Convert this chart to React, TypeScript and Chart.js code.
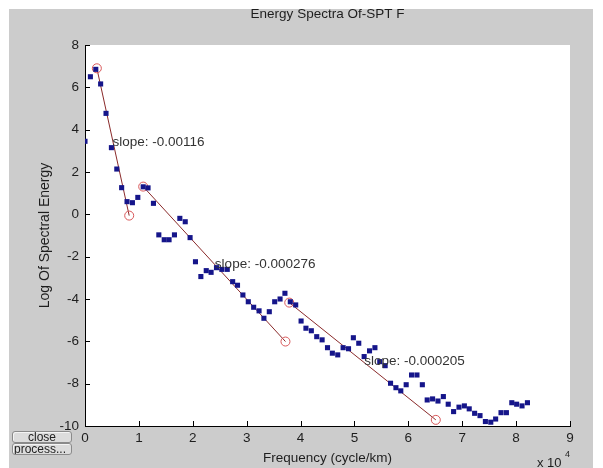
import React, { useEffect, useRef } from "react";
import { Chart, registerables } from "chart.js";

Chart.register(...registerables);

// Frequency (x 10^4 cycle/km)
const freq = [
  0.00, 0.10, 0.20, 0.29, 0.39, 0.49, 0.59, 0.68, 0.78, 0.88,
  0.98, 1.08, 1.17, 1.27, 1.37, 1.47, 1.56, 1.66, 1.76, 1.86,
  1.95, 2.05, 2.15, 2.25, 2.34, 2.44, 2.54, 2.64, 2.74, 2.83,
  2.93, 3.03, 3.13, 3.23, 3.32, 3.42, 3.52, 3.62, 3.71, 3.81,
  3.91, 4.01, 4.10, 4.20, 4.30, 4.40, 4.50, 4.59, 4.69, 4.79,
  4.89, 4.98, 5.08, 5.18, 5.28, 5.38, 5.47, 5.57, 5.67, 5.77,
  5.86, 5.96, 6.06, 6.16, 6.26, 6.35, 6.45, 6.55, 6.65, 6.74,
  6.84, 6.94, 7.04, 7.13, 7.23, 7.33, 7.43, 7.53, 7.62, 7.72,
  7.82, 7.92, 8.01, 8.11, 8.21,
];

// Log of spectral energy
const energy = [
  3.45, 6.5, 6.85, 6.16, 4.77, 3.15, 2.14, 1.26, 0.6, 0.55,
  0.8, 1.3, 1.25, 0.52, -0.97, -1.2, -1.2, -0.97, -0.19, -0.35,
  -1.1, -2.24, -2.94, -2.66, -2.74, -2.52, -2.6, -2.6, -3.18, -3.35,
  -3.81, -4.13, -4.39, -4.56, -4.91, -4.6, -4.13, -4.0, -3.73, -4.13,
  -4.28, -5.04, -5.38, -5.5, -5.78, -5.93, -6.3, -6.56, -6.64, -6.3,
  -6.35, -5.83, -6.09, -6.72, -6.45, -6.3, -6.96, -7.15, -7.98, -8.19,
  -8.34, -8.05, -7.59, -7.59, -8.05, -8.77, -8.72, -8.82, -8.61, -8.97,
  -9.32, -9.11, -9.05, -9.19, -9.4, -9.51, -9.79, -9.82, -9.67, -9.37,
  -9.37, -8.9, -8.97, -9.05, -8.9,
];

// Fitted segments (end points)
const fit1X = [0.22, 0.82];
const fit1Y = [6.9, -0.06];
const fit2X = [1.08, 3.72];
const fit2Y = [1.31, -6.01];
const fit3X = [3.79, 6.51];
const fit3Y = [-4.17, -9.71];

const slopeLabels = ["slope: -0.00116", "slope: -0.000276", "slope: -0.000205"];
const slopeLabelX = [0.51, 2.41, 5.18];
const slopeLabelY = [3.39, -2.36, -6.96];

const xTicks = [0, 1, 2, 3, 4, 5, 6, 7, 8, 9];
const yTicks = [-10, -8, -6, -4, -2, 0, 2, 4, 6, 8];

const titleText = "Energy Spectra Of-SPT F";
const xLabel = "Frequency (cycle/km)";
const yLabel = "Log Of Spectral Energy";

const FONT = "'Liberation Sans', Arial, sans-serif";
const TEXT = "#1e1e1e";

const toPts = (xs: number[], ys: number[]) => xs.map((x, i) => ({ x, y: ys[i] }));

const decorPlugin = {
  id: "decor",
  beforeDraw(chart: any) {
    const { ctx, width, height, chartArea } = chart;
    ctx.save();
    ctx.fillStyle = "#ffffff";
    ctx.fillRect(0, 0, width, height);
    ctx.fillStyle = "#cccccc";
    ctx.fillRect(9, 9, width - 9 - 10, height - 9);
    ctx.fillStyle = "#ffffff";
    ctx.fillRect(chartArea.left, chartArea.top, chartArea.right - chartArea.left, chartArea.bottom - chartArea.top);
    ctx.restore();
  },
  afterDatasetsDraw(chart: any) {
    const { ctx } = chart;
    const xs = chart.scales.x;
    const ys = chart.scales.y;
    ctx.save();
    ctx.font = `13.5px ${FONT}`;
    ctx.fillStyle = "#333333";
    ctx.textAlign = "left";
    ctx.textBaseline = "middle";
    slopeLabels.forEach((t, i) => {
      ctx.fillText(t, xs.getPixelForValue(slopeLabelX[i]), ys.getPixelForValue(slopeLabelY[i]));
    });
    ctx.restore();
  },
  afterDraw(chart: any) {
    const { ctx, chartArea } = chart;
    const xs = chart.scales.x;
    const ys = chart.scales.y;
    ctx.save();
    ctx.strokeStyle = "#000";
    ctx.lineWidth = 1;
    ctx.beginPath();
    yTicks.forEach((v) => {
      const py = Math.round(ys.getPixelForValue(v)) + 0.5;
      ctx.moveTo(chartArea.left, py);
      ctx.lineTo(chartArea.left + 5, py);
    });
    xTicks.forEach((v) => {
      const px = Math.round(xs.getPixelForValue(v)) + 0.5;
      ctx.moveTo(px, chartArea.bottom);
      ctx.lineTo(px, chartArea.bottom - 5);
    });
    ctx.stroke();

    const cx = (chartArea.left + chartArea.right) / 2;
    const cy = (chartArea.top + chartArea.bottom) / 2;
    ctx.fillStyle = TEXT;
    ctx.textAlign = "center";
    ctx.textBaseline = "middle";
    ctx.font = `13.5px ${FONT}`;
    ctx.fillText(titleText, cx, 14);
    ctx.fillText(xLabel, cx, 458);
    ctx.font = `14px ${FONT}`;
    ctx.save();
    ctx.translate(45, cy);
    ctx.rotate(-Math.PI / 2);
    ctx.fillText(yLabel, 0, 0);
    ctx.restore();
    ctx.font = `13px ${FONT}`;
    ctx.textAlign = "left";
    ctx.fillText("x 10", 537, 463);
    ctx.font = `9px ${FONT}`;
    ctx.fillText("4", 565, 455);
    ctx.restore();
  },
};

const btnStyle: React.CSSProperties = {
  position: "absolute",
  left: 12,
  width: 60,
  height: 12,
  boxSizing: "border-box",
  background: "#dcdcdc",
  border: "1px solid #8a8a8a",
  borderRadius: 3,
  font: `12px ${FONT}`,
  lineHeight: "10px",
  color: "#222",
  textAlign: "center",
  overflow: "hidden",
  whiteSpace: "nowrap",
  boxShadow: "inset 1px 1px 0 #f4f4f4",
};

export default function App() {
  const ref = useRef<HTMLCanvasElement | null>(null);
  useEffect(() => {
    if (!ref.current) return;
    const chart = new Chart(ref.current, {
      type: "scatter",
      data: {
        datasets: [
          {
            label: "spectrum",
            data: toPts(freq, energy),
            pointStyle: "rect",
            pointRadius: 3.6,
            pointBackgroundColor: "#15158a",
            pointBorderWidth: 0,
            showLine: false,
          },
          ...[
            [fit1X, fit1Y],
            [fit2X, fit2Y],
            [fit3X, fit3Y],
          ].map(([fx, fy], i) => ({
            label: "fit" + (i + 1),
            data: toPts(fx, fy),
            showLine: true,
            borderColor: "#8a2a2a",
            borderWidth: 1,
            pointStyle: "circle",
            pointRadius: 4.5,
            pointBackgroundColor: "rgba(0,0,0,0)",
            pointBorderColor: "#d9585a",
            pointBorderWidth: 1,
          })),
        ],
      },
      options: {
        animation: false,
        responsive: false,
        maintainAspectRatio: false,
        events: [],
        layout: { padding: { top: 45, right: 33, left: 0, bottom: 0 } },
        plugins: { legend: { display: false }, tooltip: { enabled: false }, title: { display: false } },
        scales: {
          x: {
            type: "linear",
            min: 0,
            max: 9,
            afterFit: (s: any) => { s.height = 42; },
            afterBuildTicks: (s: any) => { s.ticks = xTicks.map((v) => ({ value: v })); },
            ticks: { font: { family: FONT, size: 13.5 }, color: TEXT, padding: 4, maxRotation: 0, autoSkip: false },
            grid: { display: false, drawTicks: false },
            border: { display: true, color: "#000", width: 1 },
          },
          y: {
            type: "linear",
            min: -10,
            max: 8,
            afterFit: (s: any) => { s.width = 85; },
            afterBuildTicks: (s: any) => { s.ticks = yTicks.map((v) => ({ value: v })); },
            ticks: { font: { family: FONT, size: 13.5 }, color: TEXT, padding: 6, autoSkip: false },
            grid: { display: false, drawTicks: false },
            border: { display: true, color: "#000", width: 1 },
          },
        },
      },
      plugins: [decorPlugin],
    } as any);
    return () => chart.destroy();
  }, []);

  return (
    <div style={{ position: "absolute", left: 0, top: 0, width: 603, height: 468 }}>
      <canvas ref={ref} width={603} height={468} style={{ display: "block", width: 603, height: 468 }} />
      <div style={{ ...btnStyle, top: 431 }}>close</div>
      <div style={{ ...btnStyle, top: 443, textAlign: "left", paddingLeft: 1 }}>process...</div>
    </div>
  );
}
